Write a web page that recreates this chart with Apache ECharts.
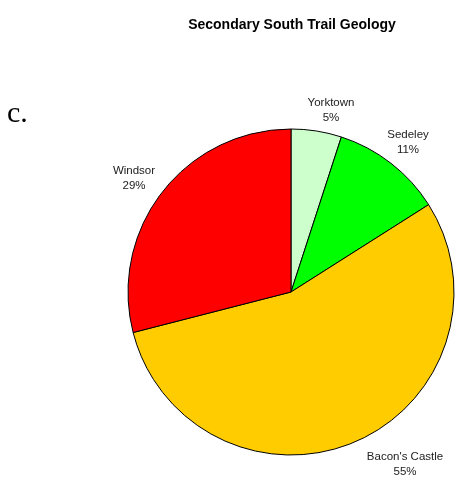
<!DOCTYPE html>
<html>
<head>
<meta charset="utf-8">
<script src="https://cdn.jsdelivr.net/npm/echarts@6/dist/echarts.min.js"></script>
<style>
  html, body { margin: 0; padding: 0; background: #fff; }
  #chart { width: 466px; height: 482px; }
</style>
</head>
<body>
<div id="chart"></div>
<script>
const categories = ['Yorktown', 'Sedeley', "Bacon's Castle", 'Windsor']
const values = [5, 11, 55, 29]
const colors = ['#ccffcc', '#00ff00', '#ffcc00', '#ff0000']
// label centres (px) as placed in the original
const labelPos = [[331, 110], [408, 142], [405, 464], [134, 178]]

const chart = echarts.init(document.getElementById('chart'))
chart.setOption({
  animation: false,
  title: {
    text: 'Secondary South Trail Geology',
    left: 287,
    top: 13,
    textAlign: 'center',
    textStyle: {
      fontFamily: 'Liberation Sans',
      fontSize: 14,
      fontWeight: 'bold',
      color: '#000'
    }
  },
  graphic: [
    {
      type: 'text',
      left: 7,
      top: 99,
      style: {
        text: 'c.',
        font: '30px "Liberation Serif"',
        fill: '#000'
      }
    }
  ],
  series: [
    {
      type: 'pie',
      center: [291, 292],
      radius: 163,
      startAngle: 90,
      clockwise: true,
      avoidLabelOverlap: false,
      itemStyle: { borderColor: '#000', borderWidth: 1 },
      label: {
        position: 'outside',
        formatter: '{b}\n{c}%',
        fontFamily: 'Liberation Sans',
        fontSize: 11.5,
        lineHeight: 15,
        color: '#222'
      },
      labelLine: { show: false },
      labelLayout: params => ({
        x: labelPos[params.dataIndex][0],
        y: labelPos[params.dataIndex][1],
        align: 'center',
        verticalAlign: 'middle'
      }),
      emphasis: { disabled: true },
      data: categories.map((name, i) => ({
        name: name,
        value: values[i],
        itemStyle: { color: colors[i] }
      }))
    }
  ]
})
</script>
</body>
</html>
